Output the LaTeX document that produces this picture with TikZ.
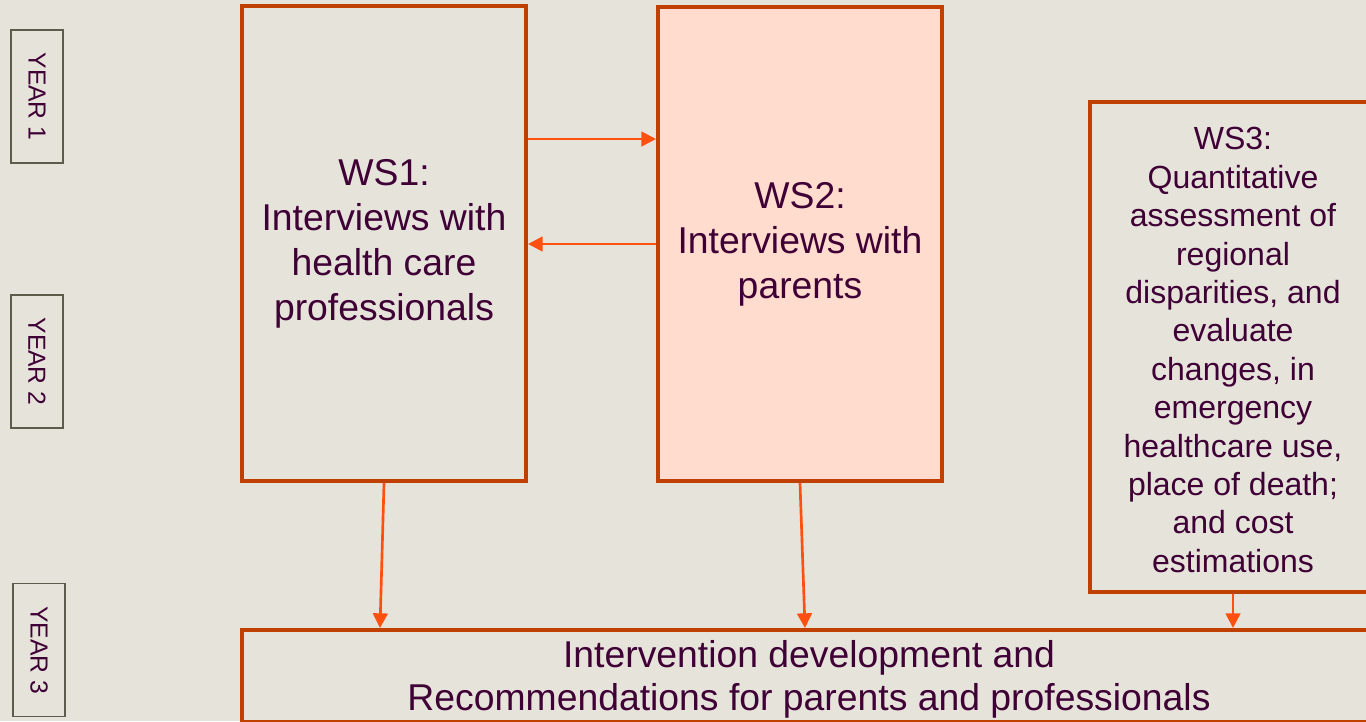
\documentclass[tikz,border=0pt]{standalone}
\usepackage{fontspec}
\setmainfont{Liberation Sans}
\usetikzlibrary{arrows.meta}
\definecolor{bg}{HTML}{E6E3DB}
\definecolor{edge}{HTML}{C04000}
\definecolor{link}{HTML}{FF5010}
\definecolor{ink}{HTML}{3F0036}
\definecolor{peach}{HTML}{FFDCCD}
\definecolor{yearedge}{HTML}{5C5C4C}
\begin{document}
\begin{tikzpicture}[x=0.75pt,y=-0.75pt,
  wsbox/.style={draw=edge, line width=3pt, align=center, text=ink, inner sep=0pt},
  yearbox/.style={draw=yearedge, line width=1.1pt, minimum width=39pt, minimum height=99.75pt,
    text=ink, inner sep=0pt},
  yeartext/.style={rotate=-90, text=ink, font=\fontsize{18.5}{22}\selectfont},
  arr/.style={draw=link, line width=2pt, -{Triangle[length=11pt,width=11pt]}}]
  \fill[bg] (0,0) rectangle (1366,721);
  \useasboundingbox (0,0) rectangle (1366,721);
  \clip (0,0) rectangle (1366,721);

  % year markers
  \node[yearbox] (y1) at (37,96.5) {};
  \node[yeartext] at (y1.center) {YEAR 1};
  \node[yearbox] (y2) at (37,361.5) {};
  \node[yeartext] at (y2.center) {YEAR 2};
  \node[yearbox] (y3) at (39,650) {};
  \node[yeartext] at (y3.center) {YEAR 3};

  % work streams
  \node[wsbox, minimum width=213pt, minimum height=356.25pt,
        font=\fontsize{28}{33.75}\selectfont] (ws1) at (384,243.5)
        {WS1:\\Interviews with\\health care\\professionals};
  \node[wsbox, fill=peach, minimum width=213pt, minimum height=355.5pt,
        font=\fontsize{28}{33.75}\selectfont] (ws2) at (800,244)
        {WS2:\\Interviews with\\parents};
  \node[wsbox, minimum width=214.5pt, minimum height=367.5pt] (ws3) at (1233,347) {};
  \node[text=ink, align=center, font=\fontsize{24}{28.8}\selectfont] (ws3text) at (1233,350)
        {WS3:\\Quantitative\\assessment of\\regional\\disparities, and\\evaluate\\changes, in\\emergency\\healthcare use,\\place of death;\\and cost\\estimations};
  \node[wsbox, minimum width=850.5pt, minimum height=69pt] (out) at (809,676) {};
  \node[text=ink, align=center, font=\fontsize{28}{32.25}\selectfont] (outtext) at (809,679)
        {Intervention development and\\Recommendations for parents and professionals};

  % links
  \draw[arr] (ws1.east |- 0,139) -- (ws2.west |- 0,139);
  \draw[arr] (ws2.west |- 0,244) -- (ws1.east |- 0,244);
  \draw[arr] (ws1.south) -- (out.north -| 380,0);
  \draw[arr] (ws2.south) -- (out.north -| 805,0);
  \draw[arr] (ws3.south) -- (out.north -| ws3.south);
\end{tikzpicture}
\end{document}
